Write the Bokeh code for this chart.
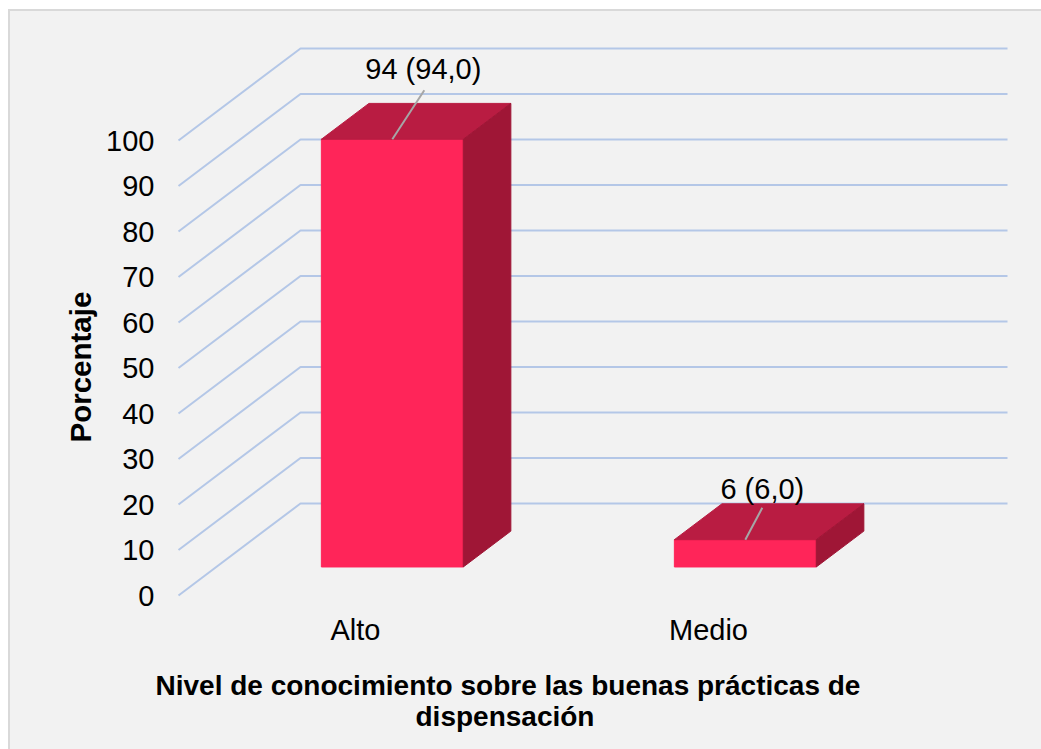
from bokeh.embed import file_html
from bokeh.models import ColumnDataSource, FixedTicker, Range1d, Title
from bokeh.plotting import figure
from bokeh.resources import INLINE
from bokeh.core.properties import value

# Chart data
categories = ["Alto", "Medio"]
counts = [94, 6]
percent_labels = ["94 (94,0)", "6 (6,0)"]
value_ticks = [0, 10, 20, 30, 40, 50, 60, 70, 80, 90, 100]
axis_title_y = "Porcentaje"
axis_title_x = ["Nivel de conocimiento sobre las buenas prácticas de", "dispensación"]

FONT = "Liberation Sans"
SIZE = "29px"
INK = "#000000"

# Page placement of the figure and its frame, in page pixels
FIG_L, FIG_T, FIG_W, FIG_H = 10, 11, 1031, 738
FRAME_L, FRAME_T, FRAME_R, FRAME_B = 175, 11, 1041, 607

# Axis scale: category spacing and percent height, in page pixels
X0_PX, CAT_PX = 355.0, 353.0
Y0_PX, UNIT_PX = 595.0, 4.55

def data_x(px):
    return (px - X0_PX) / CAT_PX

def data_y(px):
    return (Y0_PX - px) / UNIT_PX

# Oblique depth vector of the 3-D box, in data units
DEPTH_X = 122.0 / CAT_PX
DEPTH_Y = 92.0 / UNIT_PX
BAR_W = 0.402
Z_FRONT, Z_BACK = 0.31, 0.70
BAR_SHIFT = Z_FRONT * DEPTH_X - 1.0 / CAT_PX
WALL_LEFT, WALL_RIGHT = data_x(178), data_x(1007)

p = figure(
    width=FIG_W, height=FIG_H,
    output_backend="svg", toolbar_location=None,
    x_range=Range1d(data_x(FRAME_L), data_x(FRAME_R)),
    y_range=Range1d(data_y(FRAME_B), data_y(FRAME_T)),
    min_border_left=FRAME_L - FIG_L, min_border_right=0,
    min_border_top=0, min_border_bottom=FIG_T + FIG_H - FRAME_B,
    background_fill_color=None, border_fill_color=None,
    outline_line_color=None,
    margin=(FIG_T, 0, 0, FIG_L),
    styles={"outline": "2px solid #d9d9d9", "background-color": "#f2f2f2"},
)
p.grid.visible = False

# Side wall and back wall rules
for v in value_ticks:
    xs = [WALL_LEFT, WALL_LEFT + DEPTH_X, WALL_RIGHT]
    ys = [v, v + DEPTH_Y, v + DEPTH_Y]
    p.line(xs, ys, line_color="#b4c7e7", line_width=2)

# Bars as oblique boxes
for i, v in enumerate(counts):
    xl = i - BAR_W / 2 + BAR_SHIFT
    xr = i + BAR_W / 2 + BAR_SHIFT
    base = Z_FRONT * DEPTH_Y
    dx = (Z_BACK - Z_FRONT) * DEPTH_X
    dy = (Z_BACK - Z_FRONT) * DEPTH_Y
    top = base + v
    p.patch([xl, xr, xr, xl], [base, base, top, top],
            fill_color="#ff2559", line_color="#ff2559", line_width=1)
    p.patch([xl, xr, xr + dx, xl + dx], [top, top, top + dy, top + dy],
            fill_color="#b91c42", line_color="#b91c42", line_width=1)
    p.patch([xr, xr + dx, xr + dx, xr], [base, base + dy, top + dy, top],
            fill_color="#9f1636", line_color="#9f1636", line_width=1)

# Value labels with leader lines rising from the bar top
LEADER = [(32 / CAT_PX, 49 / UNIT_PX), (17 / CAT_PX, 32 / UNIT_PX)]
LABEL_LIFT = [(31 / CAT_PX, 70 / UNIT_PX), (17 / CAT_PX, 51 / UNIT_PX)]
for i, v in enumerate(counts):
    x0 = i + BAR_SHIFT
    y0 = Z_FRONT * DEPTH_Y + v
    p.line([x0, x0 + LEADER[i][0]], [y0, y0 + LEADER[i][1]],
           line_color="#a6a6a6", line_width=2)

label_source = ColumnDataSource(dict(
    x=[i + BAR_SHIFT + LABEL_LIFT[i][0] for i in range(len(counts))],
    y=[Z_FRONT * DEPTH_Y + counts[i] + LABEL_LIFT[i][1] for i in range(len(counts))],
    text=percent_labels,
))
p.text("x", "y", text="text", source=label_source,
       text_font=value(FONT), text_font_size=value(SIZE), text_color=INK,
       text_align="center", text_baseline="middle")

# Axes: tick labels only
p.yaxis.ticker = FixedTicker(ticks=value_ticks)
p.yaxis.axis_line_color = None
p.yaxis.major_tick_line_color = None
p.yaxis.minor_tick_line_color = None
p.yaxis.major_label_standoff = 15
p.yaxis.major_label_text_font = FONT
p.yaxis.major_label_text_font_size = SIZE
p.yaxis.major_label_text_color = INK

p.xaxis.ticker = FixedTicker(ticks=list(range(len(categories))))
p.xaxis.major_label_overrides = {i: c for i, c in enumerate(categories)}
p.xaxis.axis_line_color = None
p.xaxis.major_tick_line_color = None
p.xaxis.minor_tick_line_color = None
p.xaxis.major_label_standoff = 0
p.xaxis.major_label_text_font = FONT
p.xaxis.major_label_text_font_size = SIZE
p.xaxis.major_label_text_color = INK
# A blank axis label keeps a little air under the category names
p.xaxis.axis_label = " "
p.xaxis.axis_label_text_font_size = "1px"
p.xaxis.axis_label_standoff = 1

# Axis titles stacked in the side panels, offset along the frame edge
TITLE_STYLE = dict(text_font=FONT, text_font_style="bold", text_color=INK, align="left")
p.add_layout(Title(text=axis_title_y, text_font_size="29.5px", offset=FRAME_B - 442, standoff=14,
                   **TITLE_STYLE), "left")
p.add_layout(Title(text=axis_title_x[0], text_font_size="28px", offset=155 - FRAME_L, standoff=28,
                   **TITLE_STYLE), "below")
p.add_layout(Title(text=axis_title_x[1], text_font_size="28px", offset=415 - FRAME_L, standoff=-34,
                   **TITLE_STYLE), "below")

open("out.html", "w").write(file_html(p, INLINE))
